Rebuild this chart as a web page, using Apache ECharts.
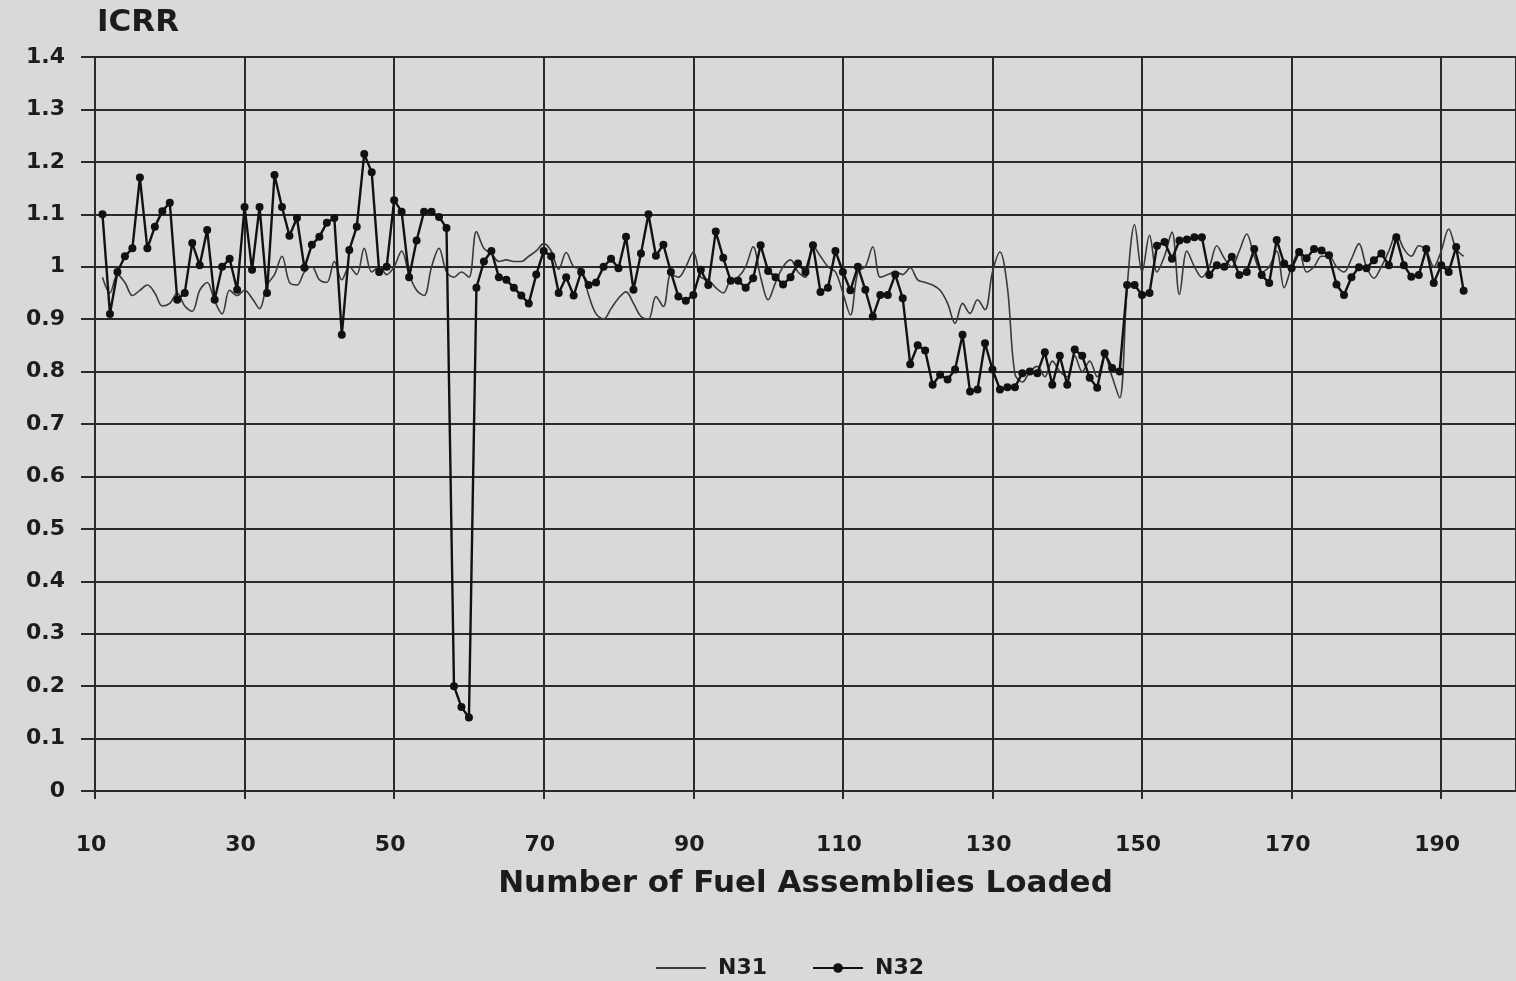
<!DOCTYPE html>
<html>
<head>
<meta charset="utf-8">
<title>ICRR</title>
<script src="https://cdn.jsdelivr.net/npm/echarts@6/dist/echarts.min.js"></script>
<style>
  html, body { margin: 0; padding: 0; background: #d9d9d9; }
  #chart { width: 1516px; height: 981px; }
</style>
</head>
<body>
<div id="chart"></div>
<script>
// number of assemblies loaded for the first reading
var startX = 11;

// N31 readings, one per assembly (11 .. 193)
var n31 = [
  0.98, 0.95, 0.985, 0.97, 0.945, 0.955, 0.965, 0.95, 0.925, 0.93,
  0.95, 0.925, 0.915, 0.955, 0.97, 0.935, 0.91, 0.955, 0.945, 0.955,
  0.94, 0.92, 0.965, 0.985, 1.02, 0.97, 0.965, 0.99, 1.0, 0.975,
  0.97, 1.01, 0.975, 1.0, 0.985, 1.035, 0.99, 1.0, 0.985, 1.0,
  1.03, 0.985, 0.955, 0.945, 1.0, 1.035, 0.99, 0.98, 0.99, 0.98,
  1.067, 1.035, 1.025, 1.01, 1.013, 1.01, 1.01, 1.02, 1.03, 1.044,
  1.03, 0.995, 1.027, 1.0, 0.995, 0.946, 0.91, 0.90, 0.92, 0.94,
  0.952, 0.93, 0.905, 0.90, 0.943, 0.924, 0.985, 0.98, 1.0, 1.028,
  0.98, 0.975, 0.96, 0.95, 0.975, 0.98, 1.0, 1.038, 0.98, 0.937,
  0.97, 1.0, 1.013, 0.99, 0.98, 1.04, 1.02, 1.0, 0.99, 0.95,
  0.908, 0.99, 1.0, 1.038, 0.98, 0.985, 0.99, 0.985, 0.998, 0.975,
  0.97, 0.965, 0.955, 0.93, 0.892, 0.93, 0.911, 0.937, 0.918, 0.99,
  1.028, 0.96, 0.795, 0.78, 0.80, 0.81, 0.79, 0.82, 0.80, 0.79,
  0.83, 0.80, 0.82, 0.79, 0.83, 0.79, 0.75, 0.96, 1.08, 0.99,
  1.06, 0.99, 1.02, 1.066, 0.947, 1.03, 1.0, 0.98, 1.0, 1.04,
  1.016, 1.0, 1.03, 1.0625, 1.02, 0.99, 1.0, 1.03, 0.96, 1.0,
  1.03, 0.99, 1.0, 1.02, 1.02, 1.0, 0.99, 1.015, 1.044, 1.0,
  0.978, 1.0, 1.03, 1.0625, 1.034, 1.02, 1.04, 1.03, 1.0, 1.03,
  1.072, 1.034, 1.02
];

// N32 readings, one per assembly (11 .. 193)
var n32 = [
  1.10, 0.91, 0.99, 1.02, 1.035, 1.17, 1.035, 1.076, 1.106, 1.122,
  0.937, 0.95, 1.045, 1.003, 1.07, 0.937, 1.0, 1.015, 0.956, 1.114,
  0.994, 1.114, 0.95, 1.175, 1.114, 1.059, 1.093, 0.998, 1.042, 1.057,
  1.084, 1.093, 0.87, 1.032, 1.076, 1.215, 1.18, 0.99, 1.0, 1.127,
  1.105, 0.98, 1.05, 1.105, 1.105, 1.095, 1.074, 0.20, 0.16, 0.14,
  0.96, 1.01, 1.03, 0.98, 0.975, 0.96, 0.945, 0.93, 0.985, 1.03,
  1.02, 0.95, 0.98, 0.945, 0.99, 0.965, 0.97, 1.0, 1.015, 0.997,
  1.057, 0.956, 1.025, 1.10, 1.021, 1.042, 0.99, 0.943, 0.935, 0.946,
  0.994, 0.965, 1.067, 1.017, 0.973, 0.973, 0.96, 0.978, 1.041, 0.992,
  0.98, 0.966, 0.98, 1.006, 0.99, 1.041, 0.952, 0.96, 1.03, 0.99,
  0.955, 1.0, 0.956, 0.905, 0.946, 0.946, 0.985, 0.94, 0.814, 0.85,
  0.84, 0.775, 0.794, 0.785, 0.804, 0.87, 0.762, 0.766, 0.854, 0.804,
  0.766, 0.77, 0.77, 0.797, 0.80, 0.797, 0.837, 0.775, 0.83, 0.775,
  0.842, 0.83, 0.788, 0.769, 0.835, 0.807, 0.80, 0.965, 0.965, 0.946,
  0.95, 1.04, 1.047, 1.015, 1.05, 1.052, 1.056, 1.056, 0.984, 1.003,
  1.0, 1.019, 0.984, 0.99, 1.034, 0.984, 0.969, 1.051, 1.006, 0.997,
  1.028, 1.016, 1.034, 1.031, 1.022, 0.966, 0.946, 0.98, 0.999, 0.997,
  1.0125, 1.025, 1.003, 1.056, 1.003, 0.981, 0.984, 1.034, 0.969, 1.003,
  0.99, 1.0375, 0.954
];

var font = "'DejaVu Sans', 'Liberation Sans', Arial, sans-serif";
var ink = '#1c1c1c';
var rule = '#2a2a2a';

function pairs(values) {
  return values.map(function (v, i) { return [startX + i, v]; });
}

var chart = echarts.init(document.getElementById('chart'));
var option = {
  backgroundColor: '#d9d9d9',
  animation: false,
  textStyle: { fontFamily: font },
  title: {
    text: 'ICRR',
    left: 92,
    top: 2,
    textStyle: { fontFamily: font, fontSize: 31, fontWeight: 'bold', color: ink }
  },
  legend: {
    top: 952,
    left: 650,
    itemWidth: 50,
    itemHeight: 12,
    itemGap: 45,
    textStyle: { fontFamily: font, fontSize: 22, fontWeight: 'bold', color: ink, padding: [0, 0, 0, 7] },
    data: [
      { name: 'N31', itemStyle: { opacity: 0 } },
      { name: 'N32' }
    ]
  },
  grid: { left: 95, right: -4, top: 57, bottom: 190 },
  xAxis: {
    type: 'value',
    min: 10,
    max: 200,
    interval: 20,
    name: 'Number of Fuel Assemblies Loaded',
    nameLocation: 'middle',
    nameGap: 77,
    nameTextStyle: { fontFamily: font, fontSize: 31, fontWeight: 'bold', color: ink },
    axisLine: { show: true, lineStyle: { color: rule, width: 2 } },
    axisTick: { show: true, length: 8, lineStyle: { color: rule, width: 2 } },
    axisLabel: {
      margin: 43,
      padding: [0, 8, 0, 0],
      fontFamily: font, fontSize: 22, fontWeight: 'bold', color: ink,
      showMaxLabel: false,
      formatter: function (v) { return (v - 10) % 20 === 0 ? String(v) : ''; }
    },
    splitLine: { show: true, lineStyle: { color: rule, width: 2 } }
  },
  yAxis: {
    type: 'value',
    min: 0,
    max: 1.4,
    interval: 0.1,
    axisLine: { show: true, lineStyle: { color: rule, width: 2 } },
    axisTick: { show: true, length: 14, lineStyle: { color: rule, width: 2 } },
    axisLabel: {
      margin: 30,
      fontFamily: font, fontSize: 22, fontWeight: 'bold', color: ink,
      formatter: function (v) { return String(Math.round(v * 10) / 10); }
    },
    splitLine: { show: true, lineStyle: { color: rule, width: 2 } }
  },
  series: [
    {
      name: 'N31',
      type: 'line',
      data: pairs(n31),
      smooth: 0.35,
      symbol: 'none',
      lineStyle: { color: '#3a3a3a', width: 1.6 },
      itemStyle: { color: '#3a3a3a' }
    },
    {
      name: 'N32',
      type: 'line',
      data: pairs(n32),
      symbol: 'circle',
      symbolSize: 8,
      lineStyle: { color: '#111', width: 2.4 },
      itemStyle: { color: '#111' }
    }
  ]
};
chart.setOption(option);
</script>
</body>
</html>
